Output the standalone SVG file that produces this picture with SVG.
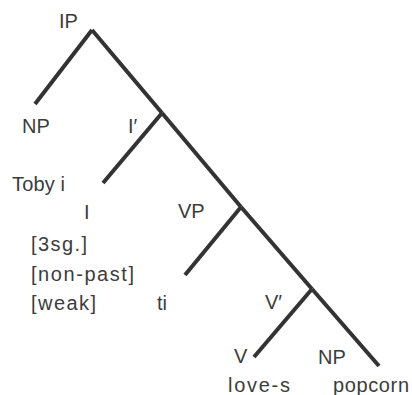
<svg xmlns="http://www.w3.org/2000/svg" width="412" height="395" viewBox="0 0 412 395">
<style>
text{font-family:"Liberation Sans","Arial",sans-serif;font-size:20px;fill:#3c3c3c}
.e{stroke:#333;stroke-width:4;stroke-linecap:butt;fill:none}
</style>
<rect width="412" height="395" fill="#fff"/>
<g id="connectors">
<line class="e" x1="92" y1="30" x2="35" y2="104"/>
<line class="e" x1="92" y1="30" x2="162" y2="113"/>
<line class="e" x1="162" y1="113" x2="103" y2="183"/>
<line class="e" x1="162" y1="113" x2="241" y2="207"/>
<line class="e" x1="241" y1="207" x2="185" y2="275"/>
<line class="e" x1="241" y1="207" x2="312" y2="289"/>
<line class="e" x1="312" y1="289" x2="254" y2="357"/>
<line class="e" x1="312" y1="289" x2="379" y2="366"/>
</g>
<g id="IP"><text x="59" y="28">IP</text></g>
<g id="NP1"><text x="22" y="133">NP</text></g>
<g id="Ibar"><text x="128" y="133">I′</text></g>
<g id="Toby"><text x="12" y="191" textLength="53">Toby i</text></g>
<g id="I"><text x="84" y="219">I</text>
<text x="31" y="251" textLength="56">[3sg.]</text>
<text x="31" y="281" textLength="103">[non-past]</text>
<text x="31" y="310" textLength="65">[weak]</text></g>
<g id="VP"><text x="178" y="218">VP</text></g>
<g id="ti"><text x="157" y="310">ti</text></g>
<g id="Vbar"><text x="265" y="309">V′</text></g>
<g id="V"><text x="234" y="363">V</text>
<text x="228" y="392" textLength="62">love-s</text></g>
<g id="NP2"><text x="318" y="364">NP</text>
<text x="333" y="392" textLength="76">popcorn</text></g>
</svg>
